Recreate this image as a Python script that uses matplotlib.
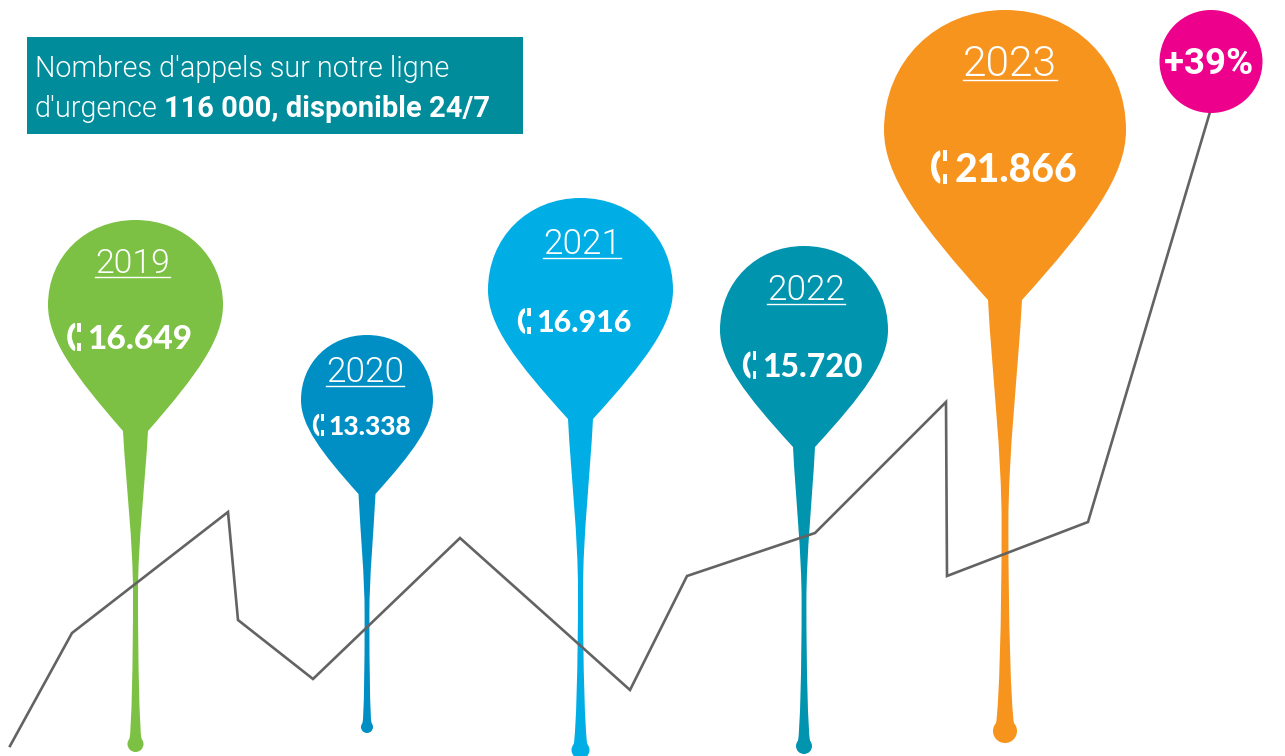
import numpy as np
import matplotlib
matplotlib.use('Agg')
import matplotlib.pyplot as plt
from matplotlib.path import Path
from matplotlib.patches import PathPatch, Circle, Rectangle

years = ['2019', '2020', '2021', '2022', '2023']
calls = [16649, 13338, 16916, 15720, 21866]
colors = ['#7CC143', '#008FC5', '#00AEE6', '#0094AF', '#F7941E']

# pin geometry in pixels
pin_x = [135.5, 367, 580.5, 804, 1005]
pin_r = [87.5, 66, 92.5, 84, 121]
pin_top = [220, 335, 198, 246, 10]
pin_wide = [305, 400, 290, 330, 130]
pin_neck = [431, 494, 419, 447, 300]
neck_w = [12.5, 8.5, 12.5, 11, 17]
ball_y = [744, 727, 750, 746, 731]
ball_r = [8, 6, 9, 8, 12]

year_x = [132.5, 365, 582, 806, 1010]
year_base = [273, 382, 254, 300, 76]
year_size = [24.3, 25.3, 25.3, 25.3, 30.6]
value_x = [139.5, 370, 583.5, 812, 1015.5]
value_mid = [337, 425, 321, 365, 167]
value_size = [24, 19.1, 21.9, 23, 28.2]

line_x = [10, 72, 228, 238, 313, 460, 630, 687, 815, 946, 947, 1088, 1210]
line_y = [746, 633, 512, 620, 679, 538, 690, 576, 533, 402, 576, 522, 112]


def pin_path(x, r, top, wide, neck, nw, by, br):
    h = wide - top
    d = neck - wide
    L = by - neck
    tw = max(nw * 0.2, 2.4)
    right = [(x + r * 0.57, top), (x + r, wide - h * 0.57), (x + r, wide),
             (x + r, wide + d * 0.27), (x + nw + (r - nw) * 0.66, neck - d * 0.45), (x + nw, neck),
             (x + nw * 0.75, neck + L * 0.18), (x + tw, neck + L * 0.35), (x + tw, neck + L * 0.52),
             (x + tw, neck + L * 0.75), (x + br * 0.5, by - br * 2.2), (x + br * 0.75, by - br * 0.6)]
    # the left side is the right side mirrored, walked from the bottom up
    verts = [(x, top)] + right + [(2 * x - right[-1][0], right[-1][1])]
    verts += [(2 * x - a, b) for a, b in right[-2::-1]] + [(x, top)]
    codes = [Path.MOVETO] + [Path.CURVE4] * 12 + [Path.LINETO] + [Path.CURVE4] * 12
    return Path(verts, codes)


def phone(ax, x, y, s):
    # handset icon, s is its height in pixels, x is its left edge
    v = [(0.26, -0.5), (0.04, -0.42), (0.0, -0.14), (0.0, 0.0),
         (0.0, 0.2), (0.08, 0.42), (0.26, 0.5),
         (0.29, 0.44), (0.29, 0.38), (0.27, 0.32),
         (0.2, 0.18), (0.16, 0.08), (0.16, -0.02),
         (0.16, -0.14), (0.2, -0.26), (0.27, -0.32),
         (0.29, -0.38), (0.29, -0.44), (0.26, -0.5)]
    c = [Path.MOVETO] + [Path.CURVE4] * 18
    v = [(x + a * s, y + b * s) for a, b in v]
    ax.add_patch(PathPatch(Path(v, c), fc='white', ec='none', zorder=5))
    ax.add_patch(Rectangle((x + 0.36 * s, y - 0.5 * s), 0.13 * s, 0.32 * s, fc='white', ec='none', zorder=5))
    ax.add_patch(Rectangle((x + 0.36 * s, y + 0.22 * s), 0.13 * s, 0.28 * s, fc='white', ec='none', zorder=5))


fig = plt.figure(figsize=(12.85, 7.56), dpi=100)
ax = fig.add_axes([0, 0, 1, 1])
ax.set_xlim(0, 1285)
ax.set_ylim(756, 0)
ax.axis('off')

for i in range(len(years)):
    p = pin_path(pin_x[i], pin_r[i], pin_top[i], pin_wide[i], pin_neck[i], neck_w[i], ball_y[i], ball_r[i])
    ax.add_patch(PathPatch(p, fc=colors[i], ec='none', zorder=2))
    ax.add_patch(Circle((pin_x[i], ball_y[i]), ball_r[i], fc=colors[i], ec='none', zorder=2))

ax.plot(line_x, line_y, color='#636363', lw=1.9, solid_joinstyle='miter', zorder=3)

ax.add_patch(Circle((1211, 61.5), 51.5, fc='#EC008C', ec='none', zorder=4))
ax.text(1209, 64, '+39%', color='white', fontsize=26.5, fontweight='bold', family='Roboto',
        ha='center', va='center', zorder=5)

ax.add_patch(Rectangle((27, 37), 496, 97, fc='#008C9A', ec='none', zorder=4))
ax.text(35, 77, "Nombres d'appels sur notre ligne", color='white', fontsize=20.7, family='Roboto', fontweight=300, zorder=5)
ax.text(35, 117, "d'urgence", color='white', fontsize=20.7, family='Roboto', fontweight=300, zorder=5)
ax.text(164, 117, '116 000, disponible 24/7', color='white', fontsize=21, fontweight='bold', family='Roboto', zorder=5)

fig.canvas.draw()
inv = ax.transData.inverted()
for i in range(len(years)):
    t = ax.text(year_x[i], year_base[i], years[i], color='white', fontsize=year_size[i],
                family='Roboto', fontweight=300, ha='center', va='baseline', zorder=5)
    bb = t.get_window_extent().transformed(inv)
    ax.plot([bb.x0, bb.x1], [year_base[i] + 3.5, year_base[i] + 3.5], color='white', lw=1, zorder=5)
    label = f'{calls[i]:,}'.replace(',', '.')
    t = ax.text(value_x[i], value_mid[i], label, color='white', fontsize=value_size[i],
                family='Lato', fontweight=900, ha='center', va='center_baseline', zorder=5)
    bb = t.get_window_extent().transformed(inv)
    phone(ax, bb.x0 - value_size[i] * 0.82, value_mid[i], value_size[i] * 1.18)

fig.savefig('out.png', dpi=100)
